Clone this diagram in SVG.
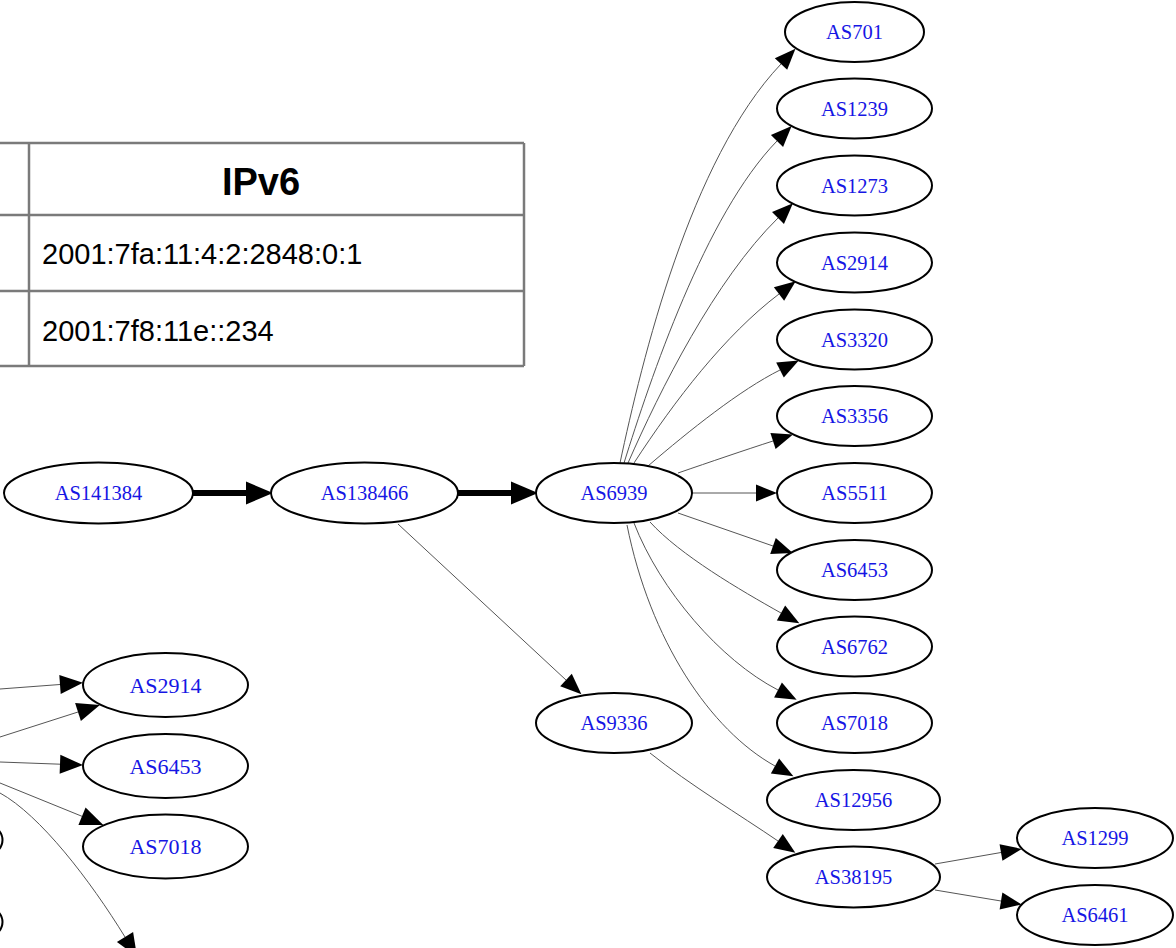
<svg xmlns="http://www.w3.org/2000/svg" width="1176" height="948" viewBox="0 0 1176 948">
<style>
.node ellipse{fill:#fff;stroke:#000;stroke-width:2}
.node text{font-family:"Liberation Serif","Times New Roman",serif;font-size:20.5px;fill:#1616e4;text-anchor:middle}
.lnode text{font-size:22px}
.edge{fill:none;stroke:#555;stroke-width:1}
.thick{fill:none;stroke:#000;stroke-width:6}
.tb{stroke:#7a7a7a;stroke-width:2.5;fill:none}
.th{font-family:"Liberation Sans",Arial,sans-serif;font-weight:bold;font-size:38px;fill:#000;text-anchor:middle}
.td{font-family:"Liberation Sans",Arial,sans-serif;font-size:29px;fill:#000}
</style>
<defs>
<marker id="arr" markerUnits="userSpaceOnUse" markerWidth="22" markerHeight="18" refX="0" refY="9" orient="auto" viewBox="0 0 22 18" overflow="visible"><path d="M0,0.5 L21,9 L0,17.5 z" fill="#000"/></marker>
<marker id="arrL" markerUnits="userSpaceOnUse" markerWidth="24" markerHeight="20" refX="0" refY="10" orient="auto" viewBox="0 0 24 20" overflow="visible"><path d="M0,0.5 L23,10 L0,19.5 z" fill="#000"/></marker>
<marker id="arrT" markerUnits="userSpaceOnUse" markerWidth="28" markerHeight="26" refX="0" refY="13" orient="auto" viewBox="0 0 28 26" overflow="visible"><path d="M0,1.5 L27,13 L0,24.5 z" fill="#000"/></marker>
</defs>

<g id="table">
<line class="tb" x1="0" y1="143" x2="524" y2="143"/>
<line class="tb" x1="0" y1="215" x2="524" y2="215"/>
<line class="tb" x1="0" y1="291" x2="524" y2="291"/>
<line class="tb" x1="0" y1="366" x2="524" y2="366"/>
<line class="tb" x1="29" y1="143" x2="29" y2="366"/>
<line class="tb" x1="524" y1="143" x2="524" y2="366"/>
<text class="th" x="261" y="195">IPv6</text>
<text class="td" x="42" y="264">2001:7fa:11:4:2:2848:0:1</text>
<text class="td" x="42" y="341">2001:7f8:11e::234</text>
</g>

<g id="connectors">
<path class="thick" d="M193,493 L246,493" marker-end="url(#arrT)"/>
<path class="thick" d="M458,493 L511,493" marker-end="url(#arrT)"/>
<path class="edge" d="M398,524 L566,680" marker-end="url(#arr)"/>
<path class="edge" d="M620,463 C642,360 690,160 781,64" marker-end="url(#arr)"/>
<path class="edge" d="M624,463 C650,380 705,215 777,141" marker-end="url(#arr)"/>
<path class="edge" d="M628,463 C660,390 715,280 778,218" marker-end="url(#arr)"/>
<path class="edge" d="M634,463 C675,400 725,335 779,294" marker-end="url(#arr)"/>
<path class="edge" d="M648,466 C690,430 740,390 780,370" marker-end="url(#arr)"/>
<path class="edge" d="M678,473 C710,462 745,450 773,441" marker-end="url(#arr)"/>
<path class="edge" d="M692,493 L756,493" marker-end="url(#arr)"/>
<path class="edge" d="M678,513 L773,546" marker-end="url(#arr)"/>
<path class="edge" d="M650,522 C680,555 740,590 781,613" marker-end="url(#arr)"/>
<path class="edge" d="M634,523 C660,590 720,660 778,690" marker-end="url(#arr)"/>
<path class="edge" d="M627,525 C650,640 710,730 775,766" marker-end="url(#arr)"/>
<path class="edge" d="M650,753 C690,785 740,815 778,841" marker-end="url(#arr)"/>
<path class="edge" d="M935,864 L1001,852.5" marker-end="url(#arr)"/>
<path class="edge" d="M935,890 L1001,901" marker-end="url(#arr)"/>
<path class="edge" d="M0,689 L60,684.5" marker-end="url(#arrL)"/>
<path class="edge" d="M0,737 L78,712" marker-end="url(#arrL)"/>
<path class="edge" d="M0,762 L60,764.2" marker-end="url(#arrL)"/>
<path class="edge" d="M0,783 L82,816.3" marker-end="url(#arrL)"/>
<path class="edge" d="M0,793 C40,815 90,880 125,937" marker-end="url(#arrL)"/>
</g>

<g id="AS141384" class="node"><ellipse cx="98.5" cy="493" rx="94.5" ry="30.5"/><text x="98.5" y="500">AS141384</text></g>
<g id="AS138466" class="node"><ellipse cx="364.5" cy="493" rx="93.5" ry="30.5"/><text x="364.5" y="500">AS138466</text></g>
<g id="AS6939" class="node"><ellipse cx="614" cy="493" rx="78" ry="30"/><text x="614" y="500">AS6939</text></g>
<g id="AS9336" class="node"><ellipse cx="614" cy="723" rx="78" ry="30"/><text x="614" y="730">AS9336</text></g>
<g id="AS701" class="node"><ellipse cx="854.5" cy="32" rx="69.5" ry="30"/><text x="854.5" y="39">AS701</text></g>
<g id="AS1239" class="node"><ellipse cx="854.5" cy="108.5" rx="77.5" ry="30"/><text x="854.5" y="115.5">AS1239</text></g>
<g id="AS1273" class="node"><ellipse cx="854.5" cy="185.5" rx="77.5" ry="30"/><text x="854.5" y="192.5">AS1273</text></g>
<g id="AS2914" class="node"><ellipse cx="854.5" cy="262.5" rx="77.5" ry="30"/><text x="854.5" y="269.5">AS2914</text></g>
<g id="AS3320" class="node"><ellipse cx="854.5" cy="339.5" rx="77.5" ry="30"/><text x="854.5" y="346.5">AS3320</text></g>
<g id="AS3356" class="node"><ellipse cx="854.5" cy="416" rx="77.5" ry="30"/><text x="854.5" y="423">AS3356</text></g>
<g id="AS5511" class="node"><ellipse cx="854.5" cy="493" rx="77.5" ry="30"/><text x="854.5" y="500">AS5511</text></g>
<g id="AS6453" class="node"><ellipse cx="854.5" cy="570" rx="77.5" ry="30"/><text x="854.5" y="577">AS6453</text></g>
<g id="AS6762" class="node"><ellipse cx="854.5" cy="646.5" rx="77.5" ry="30"/><text x="854.5" y="653.5">AS6762</text></g>
<g id="AS7018" class="node"><ellipse cx="854.5" cy="723" rx="77.5" ry="30"/><text x="854.5" y="730">AS7018</text></g>
<g id="AS12956" class="node"><ellipse cx="853.5" cy="800" rx="86.5" ry="30"/><text x="853.5" y="807">AS12956</text></g>
<g id="AS38195" class="node"><ellipse cx="853.5" cy="877" rx="86.5" ry="30.5"/><text x="853.5" y="884">AS38195</text></g>
<g id="AS1299" class="node"><ellipse cx="1095" cy="838" rx="78" ry="30"/><text x="1095" y="845">AS1299</text></g>
<g id="AS6461" class="node"><ellipse cx="1095" cy="915" rx="78" ry="30"/><text x="1095" y="922">AS6461</text></g>

<g id="left-AS2914" class="node lnode"><ellipse cx="165.5" cy="685" rx="82.5" ry="32"/><text x="165.5" y="692.5">AS2914</text></g>
<g id="left-AS6453" class="node lnode"><ellipse cx="165.5" cy="766" rx="82.5" ry="32"/><text x="165.5" y="773.5">AS6453</text></g>
<g id="left-AS7018" class="node lnode"><ellipse cx="165.5" cy="846.5" rx="82.5" ry="32"/><text x="165.5" y="854">AS7018</text></g>
<g id="left-partial-1" class="node lnode"><ellipse cx="-80" cy="840" rx="82.5" ry="32"/></g>
<g id="left-partial-2" class="node lnode"><ellipse cx="-80" cy="922" rx="82.5" ry="32"/></g>
</svg>
